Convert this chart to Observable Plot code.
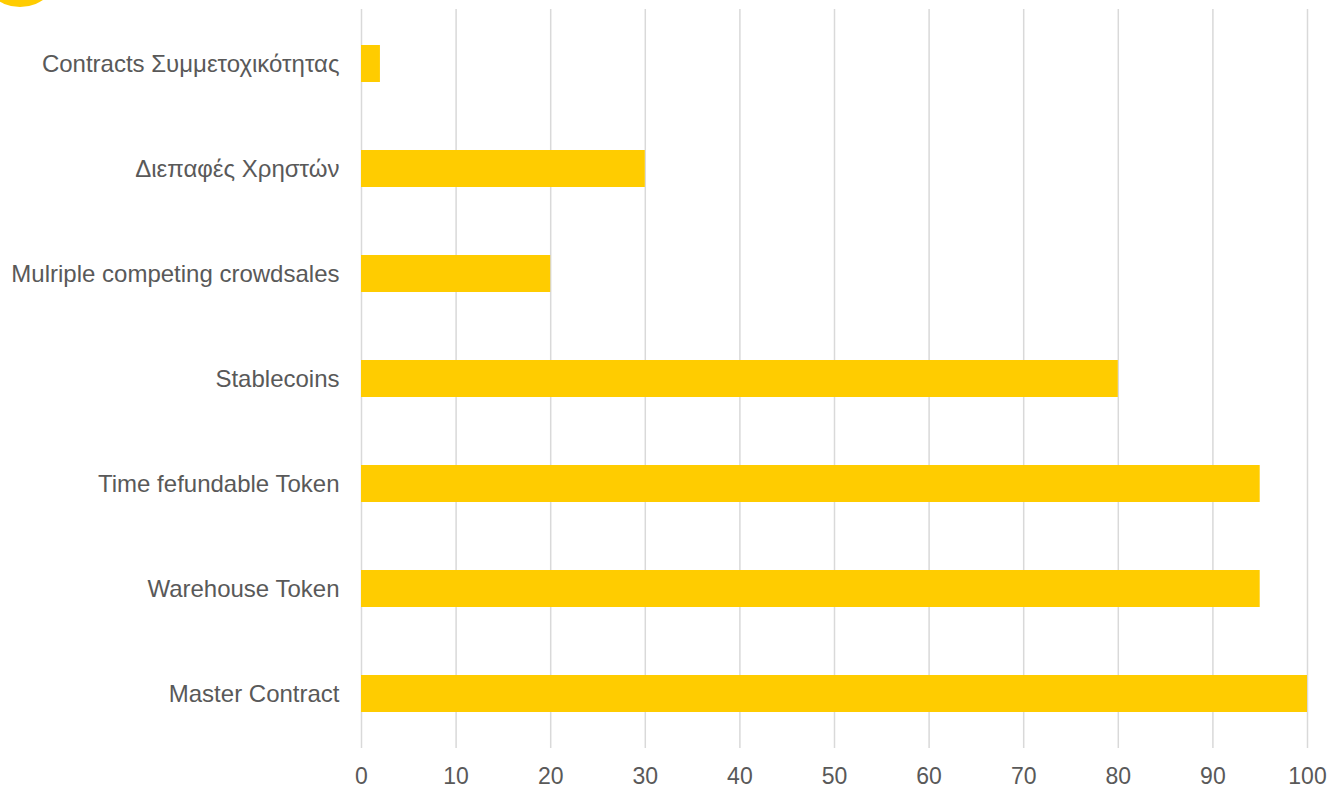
<!DOCTYPE html>
<html>
<head>
<meta charset="utf-8">
<script src="https://cdn.jsdelivr.net/npm/d3@7"></script>
<script src="https://cdn.jsdelivr.net/npm/@observablehq/plot@0.6"></script>
<style>
  html, body { margin: 0; padding: 0; background: #fff; overflow: hidden; }
  #wrap { position: relative; width: 1330px; height: 788px; }
  #dot { position: absolute; left: -21px; top: -75px; width: 82px; height: 82px; border-radius: 50%; background: #FFCC00; }
  svg { font-family: "Liberation Sans", Arial, sans-serif; }
  svg g[aria-label="x-axis tick label"] { font-size: 23px; }
  svg g[aria-label="y-axis tick label"] { font-size: 24px; }
</style>
</head>
<body>
<div id="wrap"><div id="dot"></div></div>
<script>
const categories = [
  "Contracts Συμμετοχικότητας",
  "Διεπαφές Χρηστών",
  "Mulriple competing crowdsales",
  "Stablecoins",
  "Time fefundable Token",
  "Warehouse Token",
  "Master Contract"
];
const values = [2, 30, 20, 80, 95, 95, 100];
const xTicks = [0, 10, 20, 30, 40, 50, 60, 70, 80, 90, 100];

const data = categories.map((name, i) => ({name, value: values[i]}));

const chart = Plot.plot({
  width: 1330,
  height: 788,
  marginLeft: 361,
  marginRight: 23,
  marginTop: 9,
  marginBottom: 40,
  style: {fontSize: "23px", color: "#595959", background: "transparent", fontFamily: "'Liberation Sans', Arial, sans-serif"},
  x: {domain: [0, 100], ticks: xTicks, tickSize: 0, tickPadding: 19, label: null},
  y: {domain: categories, paddingInner: 0.65, paddingOuter: 0.325, tickSize: 0, tickPadding: 22, label: null},
  marks: [
    Plot.gridX(xTicks, {stroke: "#d9d9d9", strokeOpacity: 1, strokeWidth: 1.5}),
    Plot.barX(data, {x: "value", y: "name", fill: "#FFCC00"})
  ]
});
chart.style.position = "absolute";
chart.style.left = "0";
chart.style.top = "0";
document.getElementById("wrap").appendChild(chart);
</script>
</body>
</html>
